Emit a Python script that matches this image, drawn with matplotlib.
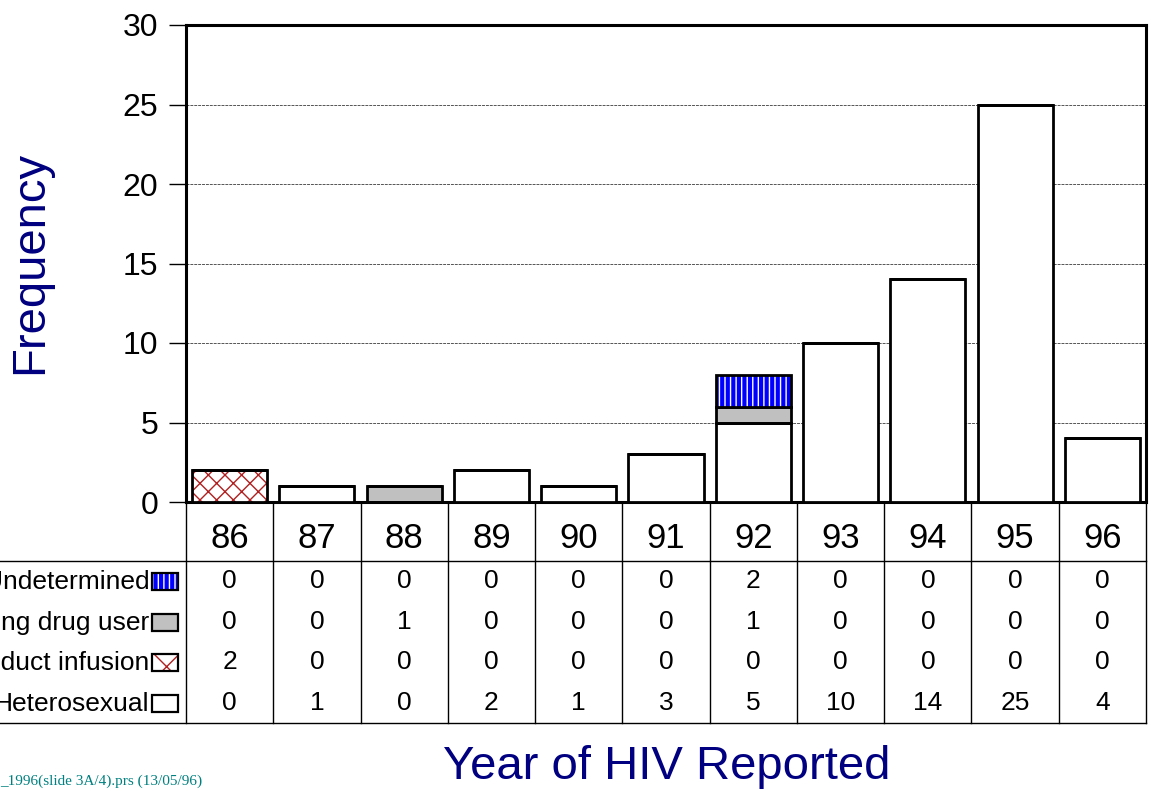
import numpy as np
import matplotlib.pyplot as plt
import matplotlib.transforms as mtransforms
from matplotlib.patches import Rectangle

# Datos del grafico
years = ["86", "87", "88", "89", "90", "91", "92", "93", "94", "95", "96"]
heterosexual = [0, 1, 0, 2, 1, 3, 5, 10, 14, 25, 4]
blood_product = [2, 0, 0, 0, 0, 0, 0, 0, 0, 0, 0]
drug_user = [0, 0, 1, 0, 0, 0, 1, 0, 0, 0, 0]
undetermined = [0, 0, 0, 0, 0, 0, 2, 0, 0, 0, 0]

row_names = ["Undetermined", "Injecting drug user", "Blood product infusion", "Heterosexual"]
row_values = [undetermined, drug_user, blood_product, heterosexual]
y_ticks = [0, 5, 10, 15, 20, 25, 30]

plt.rcParams['font.family'] = ['Liberation Sans', 'DejaVu Sans']
W, H = 1151, 791
fig = plt.figure(figsize=(W / 100, H / 100), dpi=100)

left, right = 186 / W, 1146 / W
ax = fig.add_axes([left, 1 - 502 / H, right - left, (502 - 25) / H])
tab = fig.add_axes([left, 1 - 723 / H, right - left, (723 - 502) / H])

x = np.arange(len(years))
bw = 0.86
edge = 2.0

het = np.array(heterosexual)
bld = np.array(blood_product)
idu = np.array(drug_user)
und = np.array(undetermined)

# Barras apiladas
ax.bar(x, het, bw, color="white", edgecolor="black", linewidth=edge, zorder=3)
ax.bar(x, bld, bw, bottom=het, color="white", edgecolor="#b02020", hatch="xx", linewidth=0, zorder=3)
ax.bar(x, bld, bw, bottom=het, fill=False, edgecolor="black", linewidth=edge, zorder=4)
ax.bar(x, idu, bw, bottom=het + bld, color="#c0c0c0", edgecolor="black", linewidth=edge, zorder=3)
ax.bar(x, und, bw, bottom=het + bld + idu, color="#0000ff", edgecolor="white", hatch="|||", linewidth=0, zorder=3)
ax.bar(x, und, bw, bottom=het + bld + idu, fill=False, edgecolor="black", linewidth=edge, zorder=4)

ax.set_xlim(-0.5, len(years) - 0.5)
ax.set_ylim(0, 30)
ax.set_yticks(y_ticks)
ax.set_xticks([])
ax.tick_params(axis='y', labelsize=23, length=12, width=1, pad=8, direction='out')
ax.yaxis.grid(True, linestyle=(0, (3, 1)), color="#555555", linewidth=0.7, zorder=0)
ax.set_axisbelow(True)
for side in ['left', 'top', 'right', 'bottom']:
    ax.spines[side].set_linewidth(2.2)

# Etiqueta del eje Y
fig.text(30 / W, 1 - 262 / H, "Frequency", rotation=90, ha="center", va="center",
         fontsize=34, color="#000080")

# Tabla de datos
tab.set_xlim(-0.5, len(years) - 0.5)
tab.set_ylim(221, 0)
tab.axis('off')
row_y = [79, 120, 160, 201]

for b in np.arange(len(years) + 1) - 0.5:
    tab.plot([b, b], [0, 221], color="black", linewidth=1, clip_on=False)
trans = mtransforms.blended_transform_factory(fig.transFigure, tab.transData)
for yy in [59, 221]:
    tab.plot([0, right], [yy, yy], color="black", linewidth=1, transform=trans, clip_on=False)

for i, yr in enumerate(years):
    tab.text(i, 36, yr, ha="center", va="center", fontsize=25)
for r, vals in enumerate(row_values):
    for i, v in enumerate(vals):
        tab.text(i, row_y[r], str(v), ha="center", va="center", fontsize=19)

# Etiquetas de filas con muestras de color
sw_x, sw_w, sw_h = -0.89, 0.30, 17
for r, name in enumerate(row_names):
    tab.text(sw_x - 0.03, row_y[r] + 1, name, ha="right", va="center", fontsize=19, clip_on=False)
    y0 = row_y[r] - sw_h / 2
    if r == 0:
        tab.add_patch(Rectangle((sw_x, y0), sw_w, sw_h, facecolor="#0000ff", edgecolor="white",
                                hatch="|||", linewidth=0, clip_on=False))
    elif r == 1:
        tab.add_patch(Rectangle((sw_x, y0), sw_w, sw_h, facecolor="#c0c0c0", linewidth=0, clip_on=False))
    elif r == 2:
        tab.add_patch(Rectangle((sw_x, y0), sw_w, sw_h, facecolor="white", edgecolor="#b02020",
                                hatch="x", linewidth=0, clip_on=False))
    tab.add_patch(Rectangle((sw_x, y0), sw_w, sw_h, fill=False, edgecolor="black",
                            linewidth=1.6, clip_on=False))

fig.text(667 / W, 1 - 767 / H, "Year of HIV Reported", ha="center", va="center",
         fontsize=34, color="#000080")
fig.text(0, 1 - 781 / H, "_1996(slide 3A/4).prs (13/05/96)", ha="left", va="center",
         fontsize=11, color="#008080", family="Liberation Serif")

fig.savefig("out.png", dpi=100)
